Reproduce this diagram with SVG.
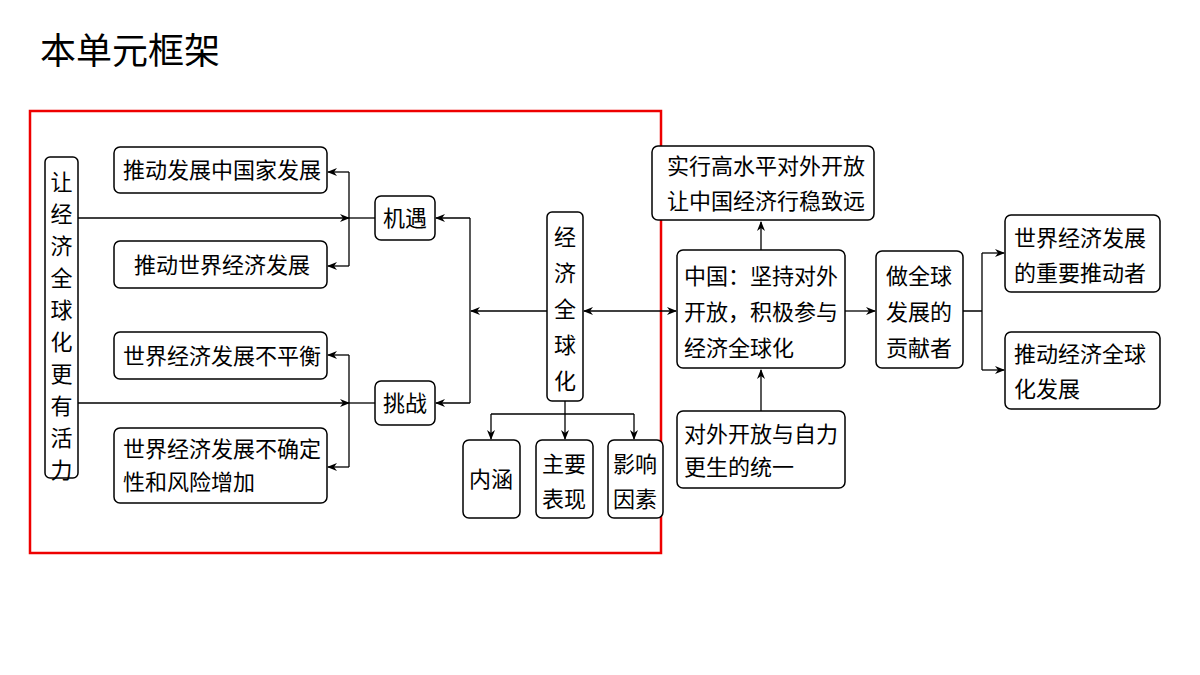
<svg xmlns="http://www.w3.org/2000/svg" width="1200" height="675" viewBox="0 0 1200 675">
<style>
.b{fill:#fff;stroke:#000;stroke-width:1.5}
text{font-family:"Liberation Serif","Noto Sans CJK SC",serif;font-size:22px;fill:#000}
.c{stroke:#000;stroke-width:1.3;fill:none}
</style>
<defs><marker id="a" markerWidth="10" markerHeight="8" refX="9" refY="4" orient="auto-start-reverse" markerUnits="userSpaceOnUse"><path d="M0,0L10,4L0,8L3,4Z" fill="#000"/></marker></defs>
<rect width="1200" height="675" fill="#fff"/>
<text x="40" y="64" style="font-size:36px">本单元框架</text>
<rect x="30" y="111" width="631" height="442" fill="none" stroke="#e00" stroke-width="2.5"/>
<g id="connectors" class="c">
<path d="M78,218H349" marker-end="url(#a)"/><path d="M349,218H375"/>
<path d="M349,172V266"/><path d="M349,172H328" marker-end="url(#a)"/><path d="M349,266H328" marker-end="url(#a)"/>
<path d="M78,403H349" marker-end="url(#a)"/><path d="M349,403H375"/>
<path d="M349,355V467"/><path d="M349,355H328" marker-end="url(#a)"/><path d="M349,467H328" marker-end="url(#a)"/>
<path d="M470,218V403"/><path d="M470,218H436" marker-end="url(#a)"/><path d="M470,403H436" marker-end="url(#a)"/>
<path d="M547,311H471" marker-end="url(#a)"/>
<path d="M584,311H676" marker-start="url(#a)" marker-end="url(#a)"/>
<path d="M565,401V439" marker-end="url(#a)"/><path d="M491,414H634"/>
<path d="M491,414V439" marker-end="url(#a)"/><path d="M634,414V439" marker-end="url(#a)"/>
<path d="M761,250V222" marker-end="url(#a)"/>
<path d="M761,411V370" marker-end="url(#a)"/>
<path d="M845,311H875" marker-end="url(#a)"/>
<path d="M963,311H982M982,253V370"/>
<path d="M982,253H1004" marker-end="url(#a)"/><path d="M982,370H1004" marker-end="url(#a)"/>
</g>
<g id="n1"><rect class="b" x="45" y="157" width="33" height="321" rx="5"/>
<text x="61.5" y="190" text-anchor="middle"><tspan x="61.5">让</tspan><tspan x="61.5" dy="32">经</tspan><tspan x="61.5" dy="32">济</tspan><tspan x="61.5" dy="32">全</tspan><tspan x="61.5" dy="32">球</tspan><tspan x="61.5" dy="32">化</tspan><tspan x="61.5" dy="32">更</tspan><tspan x="61.5" dy="32">有</tspan><tspan x="61.5" dy="32">活</tspan><tspan x="61.5" dy="32">力</tspan></text></g>
<g id="n2"><rect class="b" x="114" y="147" width="213" height="46" rx="6"/><text x="123" y="178">推动发展中国家发展</text></g>
<g id="n3"><rect class="b" x="114" y="241" width="213" height="47" rx="6"/><text x="134" y="273">推动世界经济发展</text></g>
<g id="n4"><rect class="b" x="114" y="332" width="213" height="47" rx="6"/><text x="123" y="364">世界经济发展不平衡</text></g>
<g id="n5"><rect class="b" x="114" y="428" width="213" height="75" rx="6"/><text x="123" y="457">世界经济发展不确定</text><text x="123" y="490">性和风险增加</text></g>
<g id="n6"><rect class="b" x="375" y="196" width="60" height="44" rx="6"/><text x="405" y="226" text-anchor="middle">机遇</text></g>
<g id="n7"><rect class="b" x="375" y="381" width="60" height="44" rx="6"/><text x="405" y="411" text-anchor="middle">挑战</text></g>
<g id="n8"><rect class="b" x="547" y="212" width="36" height="189" rx="5"/>
<text x="565" y="245" text-anchor="middle"><tspan x="565">经</tspan><tspan x="565" dy="36">济</tspan><tspan x="565" dy="36">全</tspan><tspan x="565" dy="36">球</tspan><tspan x="565" dy="36">化</tspan></text></g>
<g id="n9"><rect class="b" x="463" y="440" width="57" height="78" rx="6"/><text x="491" y="487" text-anchor="middle">内涵</text></g>
<g id="n10"><rect class="b" x="536" y="440" width="57" height="78" rx="6"/><text x="564" y="472" text-anchor="middle">主要</text><text x="564" y="507" text-anchor="middle">表现</text></g>
<g id="n11"><rect class="b" x="608" y="440" width="55" height="78" rx="6"/><text x="635" y="472" text-anchor="middle">影响</text><text x="635" y="507" text-anchor="middle">因素</text></g>
<g id="n12"><rect class="b" x="652" y="146" width="222" height="74" rx="6"/><text x="667" y="174">实行高水平对外开放</text><text x="667" y="209">让中国经济行稳致远</text></g>
<g id="n13"><rect class="b" x="677" y="250" width="168" height="118" rx="6"/><text x="684" y="284">中国：坚持对外</text><text x="684" y="320">开放，积极参与</text><text x="684" y="356">经济全球化</text></g>
<g id="n14"><rect class="b" x="677" y="411" width="168" height="77" rx="6"/><text x="684" y="442">对外开放与自力</text><text x="684" y="475">更生的统一</text></g>
<g id="n15"><rect class="b" x="876" y="251" width="87" height="117" rx="6"/><text x="886" y="284">做全球</text><text x="886" y="320">发展的</text><text x="886" y="356">贡献者</text></g>
<g id="n16"><rect class="b" x="1005" y="215" width="155" height="77" rx="6"/><text x="1014" y="246">世界经济发展</text><text x="1014" y="281">的重要推动者</text></g>
<g id="n17"><rect class="b" x="1005" y="332" width="155" height="77" rx="6"/><text x="1014" y="362">推动经济全球</text><text x="1014" y="397">化发展</text></g>
</svg>
